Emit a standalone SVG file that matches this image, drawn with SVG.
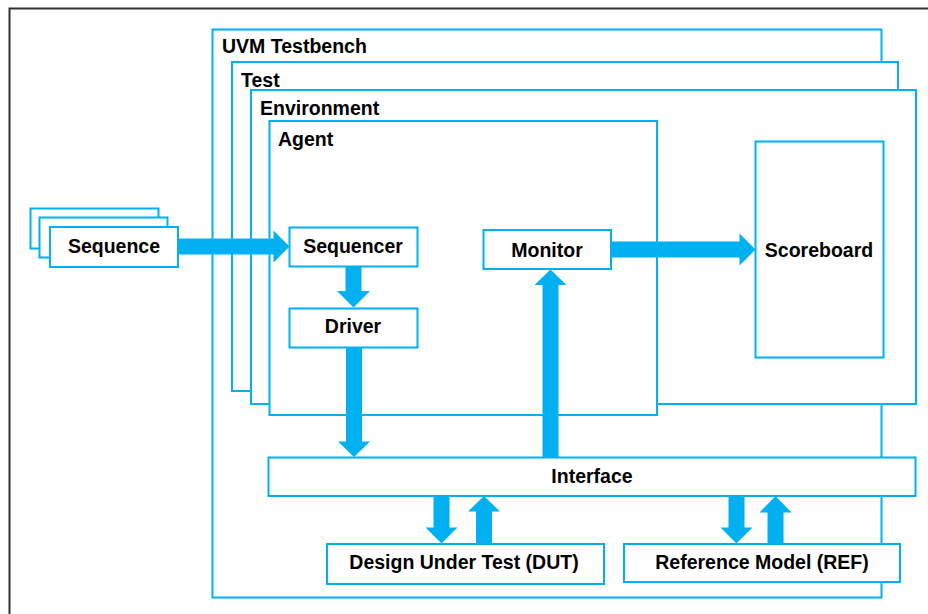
<svg xmlns="http://www.w3.org/2000/svg" width="928" height="614" viewBox="0 0 928 614">
  <style>
    .box { fill: #ffffff; stroke: #00B0F0; stroke-width: 2; }
    .frame { fill: #ffffff; stroke: #333333; stroke-width: 2; }
    .arrow { fill: #00B0F0; stroke: none; }
    text { font-family: "Liberation Sans", Arial, sans-serif; font-weight: bold; font-size: 19.5px; fill: #000000; }
    .c { text-anchor: middle; }
  </style>

  <!-- page background and outer frame -->
  <rect x="0" y="0" width="928" height="614" fill="#ffffff"/>
  <rect class="frame" x="9.5" y="8.5" width="940" height="620"/>

  <!-- nested containers -->
  <g id="uvm-testbench">
    <rect class="box" x="212.5" y="29.5" width="669" height="568"/>
    <text x="222" y="53">UVM Testbench</text>
  </g>
  <g id="test">
    <rect class="box" x="232" y="62" width="666" height="329"/>
    <text x="241" y="87">Test</text>
  </g>
  <g id="environment">
    <rect class="box" x="251" y="90" width="665" height="314"/>
    <text x="260" y="115">Environment</text>
  </g>
  <g id="agent">
    <rect class="box" x="269.5" y="121" width="387.5" height="294"/>
    <text x="278" y="146">Agent</text>
  </g>

  <!-- components -->
  <g id="sequence">
    <rect class="box" x="30.5" y="208.5" width="128" height="40"/>
    <rect class="box" x="39.5" y="217.5" width="128" height="40"/>
    <rect class="box" x="50" y="227" width="128" height="40"/>
    <text class="c" x="114" y="253">Sequence</text>
  </g>
  <g id="sequencer">
    <rect class="box" x="289.5" y="227.5" width="128" height="39"/>
    <text class="c" x="353" y="253">Sequencer</text>
  </g>
  <g id="driver">
    <rect class="box" x="289.5" y="308.5" width="128" height="39"/>
    <text class="c" x="353" y="333">Driver</text>
  </g>
  <g id="monitor">
    <rect class="box" x="483.5" y="230" width="127.5" height="39"/>
    <text class="c" x="547" y="256.5">Monitor</text>
  </g>
  <g id="scoreboard">
    <rect class="box" x="755.5" y="141.5" width="128" height="216"/>
    <text class="c" x="819" y="256.5">Scoreboard</text>
  </g>
  <g id="interface">
    <rect class="box" x="268.5" y="457.5" width="647" height="38.5"/>
    <text class="c" x="592" y="482.5">Interface</text>
  </g>
  <g id="dut">
    <rect class="box" x="327" y="544" width="277" height="40"/>
    <text class="c" x="464" y="568.5">Design Under Test (DUT)</text>
  </g>
  <g id="ref-model">
    <rect class="box" x="624" y="544" width="276" height="38"/>
    <text class="c" x="762" y="568.5">Reference Model (REF)</text>
  </g>

  <!-- block-arrow connectors -->
  <g id="connectors">
    <!-- sequence -> sequencer -->
    <polygon class="arrow" points="178,238.5 273.5,238.5 273.5,230.5 289.5,246.5 273.5,262.5 273.5,254.5 178,254.5"/>
    <!-- sequencer -> driver -->
    <polygon class="arrow" points="345.5,267 361.5,267 361.5,291 370,291 353.5,307.5 337,291 345.5,291"/>
    <!-- driver -> interface -->
    <polygon class="arrow" points="346,348 362,348 362,441.5 370,441.5 354,457 338,441.5 346,441.5"/>
    <!-- interface -> monitor -->
    <polygon class="arrow" points="542.5,457 558.5,457 558.5,285 566.5,285 550.5,269.5 534.5,285 542.5,285"/>
    <!-- monitor -> scoreboard -->
    <polygon class="arrow" points="611,241.5 739.5,241.5 739.5,233.5 755.5,249.5 739.5,265.5 739.5,257.5 611,257.5"/>
    <!-- interface -> DUT -->
    <polygon class="arrow" points="433.5,496 449.5,496 449.5,527.5 457.5,527.5 441.5,543.5 425.5,527.5 433.5,527.5"/>
    <!-- DUT -> interface -->
    <polygon class="arrow" points="476,544 492,544 492,511.5 500,511.5 484,496 468,511.5 476,511.5"/>
    <!-- interface -> REF -->
    <polygon class="arrow" points="728.5,496 744.5,496 744.5,527.5 752.5,527.5 736.5,543.5 720.5,527.5 728.5,527.5"/>
    <!-- REF -> interface -->
    <polygon class="arrow" points="767.5,544 783.5,544 783.5,512.5 791.5,512.5 775.5,496 759.5,512.5 767.5,512.5"/>
  </g>
</svg>
